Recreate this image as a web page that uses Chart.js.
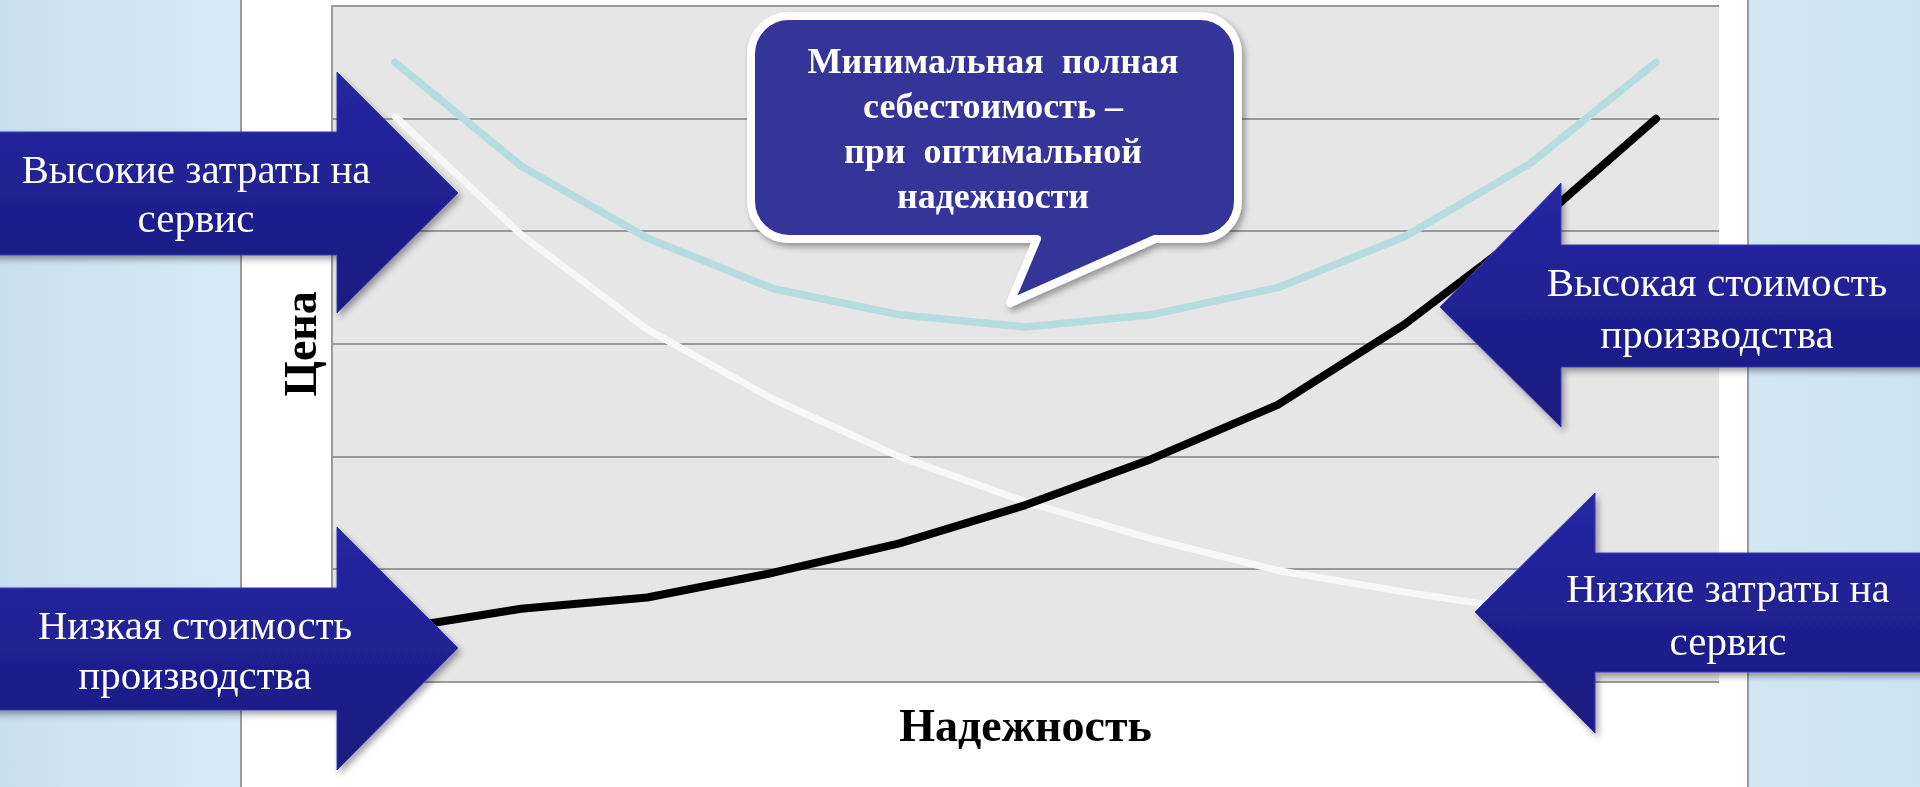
<!DOCTYPE html>
<html lang="ru">
<head>
  <meta charset="UTF-8">
  <title>Надежность и цена</title>
  <script src="https://cdn.jsdelivr.net/npm/chart.js"></script>
  <style>
    html, body { margin: 0; padding: 0; }
    body {
      width: 1920px; height: 787px; overflow: hidden; position: relative;
      background: linear-gradient(90deg, #c8dfed 0%, #d7eaf5 12%, #d3e8f4 90%, #cbe3f1 100%);
      font-family: "Liberation Serif", "Times New Roman", serif;
    }
    #panel {
      position: absolute; left: 240px; top: 0; width: 1505px; height: 787px;
      background: #fff; border-left: 2px solid #9c9c9c; border-right: 2px solid #9c9c9c;
    }
    #chart { position: absolute; left: 0; top: 0; }
    #shapes { position: absolute; left: 0; top: 0; pointer-events: none; }
    .label {
      position: absolute; color: #fff; text-align: center; white-space: pre;
      font-size: 41px; width: 500px;
    }
    .callout-text {
      position: absolute; color: #fff; text-align: center; white-space: pre;
      font-weight: bold; font-size: 36px; line-height: 45px; width: 500px;
      left: 743px; top: 39px;
    }
  </style>
</head>
<body>
  <div id="panel"></div>
  <canvas id="chart" width="1920" height="787"></canvas>

  <!-- стрелки и выноска поверх графика -->
  <svg id="shapes" width="1920" height="787">
    <defs>
      <linearGradient id="arrowFill" x1="0" y1="0" x2="0" y2="1">
        <stop offset="0" stop-color="#2626a4"/>
        <stop offset="1" stop-color="#1a1a7f"/>
      </linearGradient>
      <filter id="shadow" x="-10%" y="-10%" width="130%" height="140%">
        <feDropShadow dx="3" dy="4" stdDeviation="3" flood-color="#000" flood-opacity="0.35"/>
      </filter>
    </defs>
    <g filter="url(#shadow)" fill="url(#arrowFill)" stroke="#3b3bb8" stroke-width="1">
      <path d="M -10,132 L 337,132 L 337,72 L 458,193 L 337,313 L 337,255 L -10,255 Z"/>
      <path d="M -10,588 L 337,588 L 337,527 L 458,648 L 337,770 L 337,710 L -10,710 Z"/>
      <path d="M 1930,245 L 1561,245 L 1561,183 L 1440,307 L 1561,427 L 1561,367 L 1930,367 Z"/>
      <path d="M 1930,553 L 1595,553 L 1595,493 L 1475,612 L 1595,733 L 1595,672 L 1930,672 Z"/>
    </g>
    <path filter="url(#shadow)" fill="#343499" stroke="#fff" stroke-width="8" stroke-linejoin="round"
      d="M 789,16 H 1200 A 38 38 0 0 1 1238,54 V 201 A 38 38 0 0 1 1200,239 H 1155 L 1010,303 L 1037,239 H 789 A 38 38 0 0 1 751,201 V 54 A 38 38 0 0 1 789,16 Z"/>
  </svg>

  <div class="label" style="left:-54px; top:145px; line-height:49px;">Высокие затраты на
сервис</div>
  <div class="label" style="left:-55px; top:600px; line-height:50px;">Низкая стоимость
производства</div>
  <div class="label" style="left:1467px; top:256px; line-height:52px;">Высокая стоимость
производства</div>
  <div class="label" style="left:1478px; top:562px; line-height:53px;">Низкие затраты на
сервис</div>
  <div class="callout-text">Минимальная  полная
себестоимость –
при  оптимальной
надежности</div>

  <script>
    // уровни надежности (ось X без подписей)
    var reliabilityLevels = ['1', '2', '3', '4', '5', '6', '7', '8', '9', '10', '11'];

    // значения (условные единицы цены, шкала 0..6)
    var totalCost      = [5.50, 4.58, 3.94, 3.49, 3.26, 3.15, 3.26, 3.50, 3.95, 4.60, 5.50];
    var productionCost = [0.47, 0.65, 0.75, 0.97, 1.23, 1.57, 1.98, 2.46, 3.17, 4.02, 5.00];
    var serviceCost    = [5.02, 3.97, 3.13, 2.51, 2.00, 1.60, 1.27, 0.99, 0.80, 0.63, 0.50];

    var yMin = 0, yMax = 6, yStep = 1;

    // серый фон области построения
    var plotBackground = {
      id: 'plotBackground',
      beforeDraw: function (chart) {
        var a = chart.chartArea, ctx = chart.ctx;
        ctx.save();
        ctx.fillStyle = '#e6e6e6';
        ctx.fillRect(a.left, a.top, a.right - a.left, a.bottom - a.top);
        ctx.restore();
      }
    };

    function lineSet(label, data, color, width) {
      return {
        label: label,
        data: data,
        borderColor: color,
        backgroundColor: color,
        borderWidth: width,
        borderCapStyle: 'round',
        borderJoinStyle: 'round',
        pointRadius: 0,
        tension: 0,
        fill: false
      };
    }

    var chart = new Chart(document.getElementById('chart'), {
      type: 'line',
      data: {
        labels: reliabilityLevels,
        datasets: [
          lineSet('Стоимость производства', productionCost, '#000000', 8),
          lineSet('Затраты на сервис', serviceCost, '#f7f7f7', 7),
          lineSet('Полная себестоимость', totalCost, '#b5dcdf', 7.5)
        ]
      },
      options: {
        responsive: false,
        animation: false,
        layout: { padding: { left: 276.8, right: 201, top: 6, bottom: 29.8 } },
        plugins: { legend: { display: false }, tooltip: { enabled: false } },
        scales: {
          x: {
            offset: true,
            grid: { display: false, drawTicks: false },
            border: { display: false },
            ticks: { display: false },
            title: {
              display: true, text: 'Надежность', color: '#000',
              font: { family: 'Liberation Serif', size: 46, weight: 'bold', lineHeight: 1.2 },
              padding: { top: 20, bottom: 0 }
            }
          },
          y: {
            min: yMin, max: yMax,
            ticks: { display: false, stepSize: yStep },
            grid: { color: '#999999', lineWidth: 2, drawTicks: false },
            border: { display: true, color: '#999999', width: 2 },
            title: {
              display: true, text: 'Цена', color: '#000',
              font: { family: 'Liberation Serif', size: 46, weight: 'bold', lineHeight: 1.2 },
              padding: 0
            }
          }
        }
      },
      plugins: [plotBackground]
    });
  </script>
</body>
</html>
